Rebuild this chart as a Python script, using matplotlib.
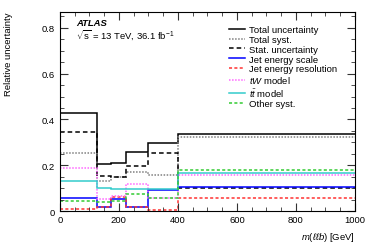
import numpy as np
import matplotlib
matplotlib.use("Agg")
import matplotlib.pyplot as plt
from matplotlib.ticker import MultipleLocator

plt.rcParams['font.family'] = ['Liberation Sans', 'DejaVu Sans']
plt.rcParams['mathtext.fontset'] = 'custom'
plt.rcParams['mathtext.rm'] = 'Liberation Sans'
plt.rcParams['mathtext.it'] = 'Liberation Sans:italic'
plt.rcParams['mathtext.bf'] = 'Liberation Sans:bold'

# bin edges in m(llb) [GeV]
edges = [0, 125, 175, 225, 300, 400, 1000]

# relative uncertainties per bin
total = [0.430, 0.206, 0.210, 0.260, 0.298, 0.338]
syst = [0.256, 0.134, 0.148, 0.173, 0.159, 0.323]
stat = [0.345, 0.155, 0.148, 0.196, 0.253, 0.103]
jes = [0.056, 0.020, 0.054, 0.018, 0.093, 0.105]
jer = [0.010, 0.018, 0.062, 0.017, 0.004, 0.057]
tw = [0.190, 0.055, 0.066, 0.118, 0.059, 0.160]
ttbar = [0.132, 0.103, 0.097, 0.098, 0.095, 0.166]
other = [0.046, 0.042, 0.045, 0.074, 0.057, 0.182]

labels = ["Total uncertainty", "Total syst.", "Stat. uncertainty",
          "Jet energy scale", "Jet energy resolution", r"$tW$ model",
          r"$t\bar{t}$ model", "Other syst."]

series = [total, syst, stat, jes, jer, tw, ttbar, other]
styles = [
    dict(color="black", ls="-", lw=1.1),
    dict(color="#808080", ls=(0, (1, 1)), lw=1.1),
    dict(color="black", ls=(0, (3, 2)), lw=1.1),
    dict(color="#0000ff", ls="-", lw=1.1),
    dict(color="#ff3333", ls=(0, (2, 1.5)), lw=1.1),
    dict(color="#ff66ff", ls=(0, (1, 1)), lw=1.1),
    dict(color="#33cccc", ls="-", lw=1.1),
    dict(color="#33cc33", ls=(0, (2, 1.5)), lw=1.1),
]

fs = 6.8

fig = plt.figure(figsize=(3.74, 2.53), dpi=100)
ax = fig.add_axes([0.160, 0.161, 0.789, 0.789])

for vals, lab, st in zip(series, labels, styles):
    ax.stairs(vals, edges, baseline=None, label=lab, **st)

ax.set_xlim(0, 1000)
ax.set_ylim(0, 0.87)
ax.xaxis.set_major_locator(MultipleLocator(200))
ax.xaxis.set_minor_locator(MultipleLocator(50))
ax.yaxis.set_major_locator(MultipleLocator(0.2))
ax.yaxis.set_minor_locator(MultipleLocator(0.05))
ax.yaxis.set_major_formatter(plt.FuncFormatter(lambda v, p: "0" if v == 0 else f"{v:.1f}"))
ax.tick_params(which="both", direction="in", top=True, right=True, labelsize=fs, color="#333333")
ax.tick_params(which="major", length=6)
ax.tick_params(which="minor", length=3)
ax.tick_params(axis="x", pad=3)

ax.set_xlabel(r"$m(\ell\ell b)$ [GeV]", loc="right", fontsize=fs)
ax.set_ylabel("Relative uncertainty", loc="top", fontsize=fs)
ax.yaxis.set_label_coords(-0.16, 1.0)

ax.text(0.055, 0.948, "ATLAS", transform=ax.transAxes, fontsize=fs,
        fontweight="bold", fontstyle="italic", va="center")
ax.text(0.055, 0.888, r"$\sqrt{\mathrm{s}}$ = 13 TeV, 36.1 fb$^{-1}$",
        transform=ax.transAxes, fontsize=fs, va="center")

ax.legend(loc="upper left", bbox_to_anchor=(0.55, 0.965), frameon=False,
          fontsize=fs, handlelength=1.75, handletextpad=0.4, labelspacing=0.08,
          borderpad=0.2)

fig.savefig("out.png", dpi=100)
